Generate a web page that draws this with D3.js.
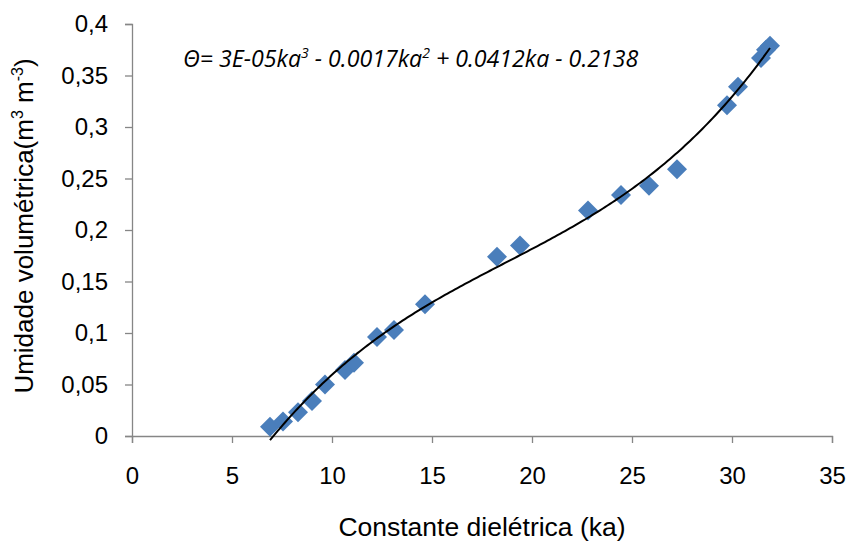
<!DOCTYPE html>
<html>
<head>
<meta charset="utf-8">
<script src="https://cdn.jsdelivr.net/npm/d3@7"></script>
<style>
  body { margin: 0; background: #fff; }
  text { font-family: "Liberation Sans", Arial, sans-serif; }
</style>
</head>
<body>
<svg width="848" height="541"></svg>
<script>
const ka = [6.9, 7.55, 8.3, 9.0, 9.65, 10.65, 11.1, 12.25, 13.1, 14.65, 18.25, 19.4, 22.8, 24.45, 25.85, 27.25, 29.75, 30.3, 31.45, 31.7, 31.9];
const theta = [0.009, 0.014, 0.023, 0.034, 0.050, 0.064, 0.071, 0.096, 0.103, 0.128, 0.174, 0.185, 0.219, 0.234, 0.243, 0.259, 0.321, 0.339, 0.367, 0.375, 0.379];
const xTicks = [0, 5, 10, 15, 20, 25, 30, 35];
const yTicks = [0, 0.05, 0.1, 0.15, 0.2, 0.25, 0.3, 0.35, 0.4];

const width = 848, height = 541;
const margins = {top: 24, right: 16, bottom: 105, left: 132};

const svg = d3.select('svg');

const x = d3.scaleLinear().domain([0, 35]).range([margins.left, width - margins.right]);
const y = d3.scaleLinear().domain([0, 0.4]).range([height - margins.bottom, margins.top]);

const fmt = d => d3.format('.2~f')(d).replace('.', ',');

// y axis
svg.append('g')
  .attr('transform', `translate(${margins.left},0)`)
  .call(d3.axisLeft(y).tickValues(yTicks).tickSize(7).tickPadding(17).tickFormat(fmt))
  .call(g => g.selectAll('.domain, line').attr('stroke', '#868686').attr('stroke-width', 1.3))
  .call(g => g.selectAll('text').attr('font-size', 24).attr('fill', '#000'));

// x axis
svg.append('g')
  .attr('transform', `translate(0,${y(0)})`)
  .call(d3.axisBottom(x).tickValues(xTicks).tickSize(7).tickPadding(24).tickFormat(d => d))
  .call(g => g.selectAll('.domain, line').attr('stroke', '#868686').attr('stroke-width', 1.3))
  .call(g => g.selectAll('text').attr('font-size', 24).attr('fill', '#000'));

// cubic least squares trendline (as in the spreadsheet)
function polyfit(xs, ys, deg) {
  const n = deg + 1;
  const A = Array.from({length: n}, () => new Array(n + 1).fill(0));
  for (let i = 0; i < xs.length; i++) {
    for (let r = 0; r < n; r++) {
      for (let c = 0; c < n; c++) A[r][c] += Math.pow(xs[i], r + c);
      A[r][n] += ys[i] * Math.pow(xs[i], r);
    }
  }
  for (let k = 0; k < n; k++) {
    let p = k;
    for (let r = k + 1; r < n; r++) if (Math.abs(A[r][k]) > Math.abs(A[p][k])) p = r;
    [A[k], A[p]] = [A[p], A[k]];
    for (let r = k + 1; r < n; r++) {
      const f = A[r][k] / A[k][k];
      for (let c = k; c <= n; c++) A[r][c] -= f * A[k][c];
    }
  }
  const coef = new Array(n).fill(0);
  for (let k = n - 1; k >= 0; k--) {
    let s = A[k][n];
    for (let c = k + 1; c < n; c++) s -= A[k][c] * coef[c];
    coef[k] = s / A[k][k];
  }
  return coef;
}
const coef = polyfit(ka, theta, 3);
const fit = v => coef[0] + coef[1] * v + coef[2] * v * v + coef[3] * v * v * v;
const [xmin, xmax] = d3.extent(ka);
const curve = d3.range(xmin, xmax + 0.001, (xmax - xmin) / 200).map(v => [v, fit(v)]);

// points
svg.append('g').selectAll('path')
  .data(ka.map((k, i) => [k, theta[i]]))
  .join('path')
  .attr('d', d3.symbol(d3.symbolSquare, 200))
  .attr('transform', d => `translate(${x(d[0])},${y(d[1])}) rotate(45)`)
  .attr('fill', '#4a7ebb');

svg.append('path')
  .datum(curve)
  .attr('fill', 'none')
  .attr('stroke', '#000')
  .attr('stroke-width', 2)
  .attr('d', d3.line().x(d => x(d[0])).y(d => y(d[1])));

// equation label
const eq = svg.append('text')
  .attr('x', 183).attr('y', 67)
  .attr('font-size', 23.2)
  .attr('font-style', 'italic')
  .style('font-family', '"Open Sans", "Liberation Sans", sans-serif');
eq.append('tspan').text('Θ= 3E-05ka');
eq.append('tspan').attr('dy', -9).attr('font-size', 14).text('3');
eq.append('tspan').attr('dy', 9).text(' - 0.0017ka');
eq.append('tspan').attr('dy', -9).attr('font-size', 14).text('2');
eq.append('tspan').attr('dy', 9).text(' + 0.0412ka - 0.2138');

// axis titles
svg.append('text')
  .attr('x', 482)
  .attr('y', 536)
  .attr('text-anchor', 'middle')
  .attr('font-size', 26.5)
  .text('Constante dielétrica (ka)');

const yt = svg.append('text')
  .attr('transform', `translate(33,226) rotate(-90)`)
  .attr('text-anchor', 'middle')
  .attr('font-size', 26);
yt.append('tspan').text('Umidade volumétrica(m');
yt.append('tspan').attr('dy', -10).attr('font-size', 16).text('3');
yt.append('tspan').attr('dy', 10).text(' m');
yt.append('tspan').attr('dy', -10).attr('font-size', 16).text('-3');
yt.append('tspan').attr('dy', 10).text(')');
</script>
</body>
</html>
